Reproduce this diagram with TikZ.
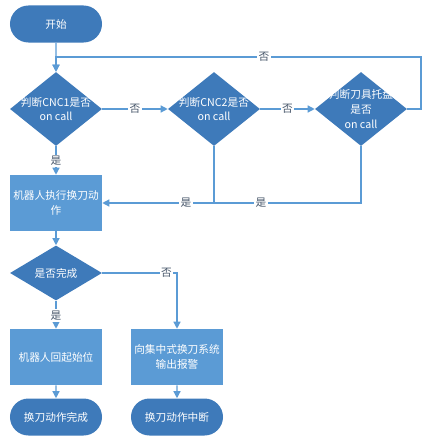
\documentclass[tikz,border=0pt]{standalone}
\usepackage{fontspec}
\newfontfamily\cjk{Noto Sans CJK SC}
\usepackage{tikz}
\usetikzlibrary{shapes.geometric, shapes.misc, arrows.meta, positioning}
\definecolor{termBlue}{RGB}{62, 122, 186}
\definecolor{boxBlue}{RGB}{91, 155, 213}
\definecolor{lineBlue}{RGB}{91, 155, 213}
\definecolor{labelGray}{RGB}{70, 85, 105}

\begin{document}
\begin{tikzpicture}[
    x=0.025cm, y=-0.025cm,
    font=\cjk\fontsize{7.6}{10.5}\selectfont,
    term/.style={rounded rectangle, fill=termBlue, text=white, minimum width=2.3cm, minimum height=0.925cm, inner sep=0pt},
    block/.style={rectangle, fill=boxBlue, text=white, minimum width=2.3cm, minimum height=1.4cm, align=center, inner sep=1pt},
    decide/.style={diamond, fill=termBlue, text=white, minimum width=2.3cm, minimum height=1.85cm, inner xsep=-9pt, inner ysep=-3pt, align=center},
    line/.style={draw=lineBlue, line width=0.9pt, -{Triangle[length=5pt, width=5pt]}},
    conn/.style={draw=lineBlue, line width=0.9pt},
    lab/.style={fill=white, text=labelGray, inner sep=1pt}
]
    \useasboundingbox (0,0) rectangle (429,445);

    % Nodes
    \node (start) [term] at (56,24) {开始};
    \node (cnc1) [decide] at (56,109) {判断CNC1是否\\on call};
    \node (cnc2) [decide] at (214,109) {判断CNC2是否\\on call};
    \node (tray) [decide] at (361,109) {判断刀具托盘\\是否\\on call};
    \node (swap) [block] at (56,203) {机器人执行换刀动\\作};
    \node (done) [decide, minimum height=1.375cm] at (56,273) {是否完成};
    \node (home) [block] at (56,357) {机器人回起始位};
    \node (alarm) [block] at (177,357) {向集中式换刀系统\\输出报警};
    \node (end1) [term] at (56,417) {换刀动作完成};
    \node (end2) [term] at (177,417) {换刀动作中断};
    \coordinate (loop) at (421,57);

    % Connections
    \path [line] (start) -- (cnc1);
    \path [line] (cnc1) -- node[lab] {否} (cnc2);
    \path [line] (cnc2) -- node[lab] {否} (tray);
    \path [line] (tray.east) -| (loop) -- node[lab, pos=0.43] {否} (loop -| cnc1.north) -- (cnc1.north);
    \path [line] (cnc1) -- node[lab, pos=0.52] {是} (swap);
    \path [line] (cnc2.south) |- node[lab, pos=0.625] {是} (swap.east);
    \path [conn] (tray.south) |- node[lab, pos=0.84] {是} (cnc2.south |- swap.east);
    \path [line] (swap) -- (done);
    \path [line] (done) -- node[lab, pos=0.53] {是} (home);
    \path [line] (done.east) -| node[lab, pos=0.43] {否} (alarm.north);
    \path [line] (home) -- (end1);
    \path [line] (alarm) -- (end2);
\end{tikzpicture}
\end{document}
